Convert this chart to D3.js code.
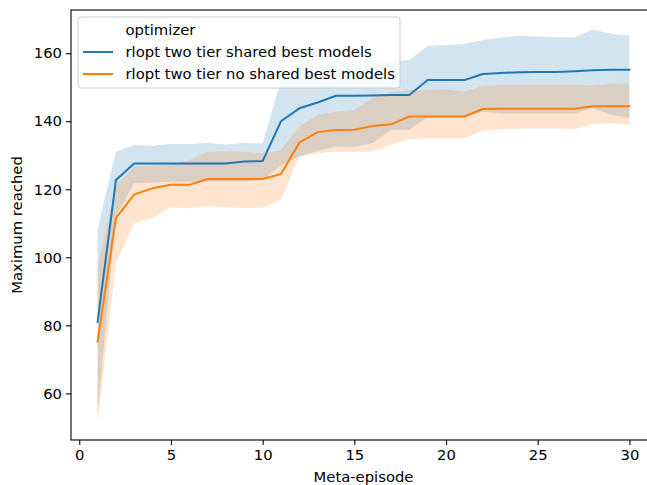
<!DOCTYPE html>
<html>
<head>
<meta charset="utf-8">
<script src="https://cdn.jsdelivr.net/npm/d3@7"></script>
<style>
  body { margin: 0; background: #fff; }
  svg { display: block; font-family: "DejaVu Sans", sans-serif; }
</style>
</head>
<body>
<div class="vis"></div>
<script>
(function() {
  'use strict';

  // meta-episodes
  var episodes = [1, 2, 3, 4, 5, 6, 7, 8, 9, 10, 11, 12, 13, 14, 15, 16, 17, 18, 19, 20,
    21, 22, 23, 24, 25, 26, 27, 28, 29, 30];

  // rlopt two tier shared best models
  var sharedMean = [81, 122.7, 127.6, 127.6, 127.6, 127.6, 127.6, 127.6, 128.2, 128.3,
    140, 143.8, 145.5, 147.5, 147.5, 147.6, 147.7, 147.7, 152.1, 152.1,
    152.1, 153.9, 154.2, 154.4, 154.5, 154.5, 154.7, 155.0, 155.1, 155.1];
  var sharedLower = [54, 112, 121.8, 122, 122.2, 122.2, 122.2, 122.2, 122.3, 122.7,
    127, 129.6, 131.3, 132.5, 132.5, 133.5, 137.4, 137.4, 141.3, 141.3,
    141.3, 142.8, 142.3, 142.3, 142.3, 142.3, 142.3, 143.8, 141.9, 140.9];
  var sharedUpper = [108.3, 131.1, 133, 132.8, 133.3, 133.3, 133.6, 133.2, 133.6, 133.5,
    152, 155, 156, 157, 157, 157.5, 157.5, 158, 162.1, 162.4,
    162.7, 163.9, 164.6, 165.1, 164.9, 164.7, 164.7, 167, 165.7, 165.2];

  // rlopt two tier no shared best models
  var noSharedMean = [75.2, 111.5, 118.5, 120.3, 121.3, 121.3, 123, 123, 123, 123,
    124.5, 133.7, 136.8, 137.4, 137.5, 138.6, 139.1, 141.4, 141.4, 141.4,
    141.4, 143.6, 143.7, 143.7, 143.7, 143.7, 143.7, 144.4, 144.4, 144.4];
  var noSharedLower = [51.6, 98.2, 110, 111.5, 114.7, 114.4, 115.1, 114.7, 114.5, 114.6,
    116.9, 129.6, 130.6, 131.1, 130.9, 131.1, 133, 134.8, 135, 135,
    135, 137.2, 137.6, 137.9, 137.9, 137.9, 137.6, 139.2, 139.5, 138.9];
  var noSharedUpper = [97, 121, 126.6, 127, 127.2, 128.5, 131, 131.2, 131, 130.5,
    131.5, 138.5, 141.8, 142.8, 143.3, 146.8, 148.5, 149.2, 149.2, 149.3,
    148.7, 150.4, 150.7, 150.7, 150.7, 150.7, 150.7, 150.5, 151, 151.2];

  var seriesNames = ['rlopt two tier shared best models', 'rlopt two tier no shared best models'];
  var colors = ['#1f77b4', '#ff7f0e'];
  var xTicks = [0, 5, 10, 15, 20, 25, 30];
  var yTicks = [60, 80, 100, 120, 140, 160];

  var series = [
    {name: seriesNames[0], color: colors[0], mean: sharedMean, lo: sharedLower, hi: sharedUpper},
    {name: seriesNames[1], color: colors[1], mean: noSharedMean, lo: noSharedLower, hi: noSharedUpper}
  ];

  var W = 647, H = 485,
    left = 71, top = 10, right = 656, bottom = 440,
    fontSize = '14.8px';

  var svg = d3.select('.vis').append('svg')
    .attr('width', W)
    .attr('height', H);

  var x = d3.scaleLinear().domain([-0.45, 31.45]).range([left, right]);
  var y = d3.scaleLinear().domain([46.3, 172.7]).range([bottom, top]);

  // bands first (matplotlib draws collections under lines)
  series.forEach(function(s) {
    var area = d3.area()
      .x(function(d, i) { return x(episodes[i]); })
      .y0(function(d, i) { return y(s.lo[i]); })
      .y1(function(d, i) { return y(s.hi[i]); });
    svg.append('path')
      .datum(s.mean)
      .attr('d', area)
      .attr('fill', s.color)
      .attr('fill-opacity', 0.2)
      .attr('stroke', 'none');
  });

  series.forEach(function(s) {
    var line = d3.line()
      .x(function(d, i) { return x(episodes[i]); })
      .y(function(d) { return y(d); });
    svg.append('path')
      .datum(s.mean)
      .attr('d', line)
      .attr('fill', 'none')
      .attr('stroke', s.color)
      .attr('stroke-width', 2)
      .attr('stroke-linejoin', 'round')
      .attr('stroke-linecap', 'square');
  });

  // axes
  var xAxis = d3.axisBottom(x).tickValues(xTicks).tickSize(5).tickPadding(4);
  var yAxis = d3.axisLeft(y).tickValues(yTicks).tickSize(5).tickPadding(4);

  var gx = svg.append('g')
    .attr('transform', 'translate(0,' + bottom + ')')
    .call(xAxis);
  var gy = svg.append('g')
    .attr('transform', 'translate(' + left + ',0)')
    .call(yAxis);

  [gx, gy].forEach(function(g) {
    g.select('.domain').remove();
    g.selectAll('line').attr('stroke', '#000').attr('stroke-width', 1.1);
    g.selectAll('text').attr('fill', '#000').style('font-size', fontSize)
      .style('font-family', '"DejaVu Sans", sans-serif');
  });

  // spines
  svg.append('rect')
    .attr('x', left)
    .attr('y', top)
    .attr('width', right - left)
    .attr('height', bottom - top)
    .attr('fill', 'none')
    .attr('stroke', '#000')
    .attr('stroke-width', 1.1);

  svg.append('text')
    .attr('x', (left + right) / 2)
    .attr('y', 482)
    .attr('text-anchor', 'middle')
    .style('font-size', fontSize)
    .text('Meta-episode');

  svg.append('text')
    .attr('transform', 'translate(22,' + ((top + bottom) / 2) + ') rotate(-90)')
    .attr('text-anchor', 'middle')
    .style('font-size', fontSize)
    .text('Maximum reached');

  // legend (seaborn style: hue title as a blank-handle entry)
  var lg = svg.append('g').attr('transform', 'translate(78,17)');
  lg.append('rect')
    .attr('width', 322)
    .attr('height', 71)
    .attr('rx', 3)
    .attr('fill', '#fff')
    .attr('fill-opacity', 0.8)
    .attr('stroke', '#cccccc')
    .attr('stroke-width', 1);

  var rows = [{label: 'optimizer', color: null}].concat(series.map(function(s) {
    return {label: s.name, color: s.color};
  }));

  rows.forEach(function(r, i) {
    var cy = 13 + i * 22;
    if (r.color) {
      lg.append('line')
        .attr('x1', 5).attr('x2', 35)
        .attr('y1', cy).attr('y2', cy)
        .attr('stroke', r.color)
        .attr('stroke-width', 2);
    }
    lg.append('text')
      .attr('x', 47.5)
      .attr('y', cy)
      .attr('dy', '0.35em')
      .style('font-size', fontSize)
      .attr('fill', '#000')
      .text(r.label);
  });

}());
</script>
</body>
</html>
